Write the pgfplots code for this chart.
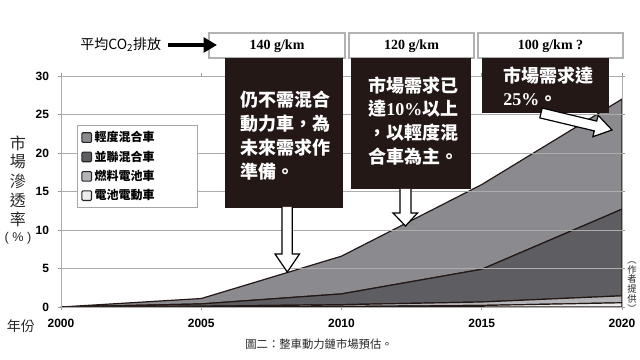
\documentclass[border=0pt]{standalone}
\usepackage{fontspec}
\usepackage{pgfplots}
\pgfplotsset{compat=1.18}
\usetikzlibrary{arrows.meta}
\setmainfont{Liberation Sans}
\newfontfamily\cjk{Noto Sans CJK TC}
\newfontfamily\serif{Liberation Serif}
\definecolor{mildgray}{HTML}{8B8A8F}
\definecolor{pargray}{HTML}{5E5D62}
\definecolor{fcgray}{HTML}{B4B3B8}
\definecolor{evwhite}{HTML}{EDEDED}
\definecolor{boxblack}{HTML}{231815}
\begin{document}
\begin{tikzpicture}
\path[use as bounding box] (0,0) rectangle (480pt,270pt);
\begin{axis}[
  at={(45.75pt,39.75pt)}, anchor=south west,
  scale only axis, width=420.75pt, height=173.25pt,
  xmin=2000, xmax=2020, ymin=0, ymax=30,
  xtick={2000,2005,...,2020}, ytick={0,5,...,30},
  xticklabel style={/pgf/number format/1000 sep={}, yshift=-3pt},
  yticklabel style={xshift=-3pt},
  /pgf/number format/assume math mode=true,
  ticklabel style={font=\bfseries\fontsize{9}{9}\selectfont},
  tick align=outside, major tick length=2.5pt, tick style={gray!80, line width=0.6pt},
  ymajorgrids, grid style={gray!65, line width=0.6pt},
  axis line style={gray!65, line width=0.6pt},
  stack plots=y, area style,
  every axis plot/.append style={draw={boxblack}, line width=0.9pt},
  legend image code/.code={\draw[#1,draw=black!85,line width=0.8pt,rounded corners=0.8pt] (0pt,-3.6pt) rectangle (7.2pt,3.6pt);},
  reverse legend,
  legend cell align=left,
  legend style={at={(0.0285,0.788)}, anchor=north west, draw=gray!70, line width=0.6pt, fill=white,
    font=\cjk\bfseries\fontsize{9}{10}\selectfont, row sep=1.3pt, inner xsep=3pt, inner ysep=2.5pt},
]
\addplot[fill=evwhite] coordinates {(2000,0) (2005,0.02) (2010,0.06) (2015,0.2) (2020,0.55)} \closedcycle;
\addlegendentry{\makebox[72pt][l]{電池電動車}}
\addplot[fill=fcgray] coordinates {(2000,0) (2005,0.08) (2010,0.24) (2015,0.45) (2020,0.9)} \closedcycle;
\addlegendentry{\makebox[72pt][l]{燃料電池車}}
\addplot[fill=pargray] coordinates {(2000,0) (2005,0.3) (2010,1.4) (2015,4.25) (2020,11.25)} \closedcycle;
\addlegendentry{\makebox[72pt][l]{並聯混合車}}
\addplot[fill=mildgray] coordinates {(2000,0) (2005,0.7) (2010,4.9) (2015,11.0) (2020,14.3)} \closedcycle;
\addlegendentry{\makebox[72pt][l]{輕度混合車}}
\end{axis}
\begin{scope}[yshift=270pt, x=0.75pt, y=-0.75pt]
  % CO2 header
  \node[anchor=west, inner sep=0pt, font=\cjk\fontsize{10.5}{12}\selectfont] at (80,45) {平均CO\textsubscript{2}排放};
  \draw[gray!60, fill=white, line width=0.8pt] (209,33) rectangle (345,58);
  \draw[gray!60, fill=white, line width=0.8pt] (349,33) rectangle (474,58);
  \draw[gray!60, fill=white, line width=0.8pt] (478,33) rectangle (623,58);
  \draw[line width=3pt, -{Triangle[length=10pt,width=11pt]}] (168,45) -- (217,45);
  \node[font=\serif\bfseries\fontsize{10.5}{12}\selectfont] at (277,46) {140 g/km};
  \node[font=\serif\bfseries\fontsize{10.5}{12}\selectfont] at (411.5,46) {120 g/km};
  \node[font=\serif\bfseries\fontsize{10.5}{12}\selectfont] at (550.5,46) {100 g/km ?};
  % black callouts
  \fill[boxblack] (225,58) rectangle (343,208);
  \fill[boxblack] (351,58) rectangle (471,189);
  \fill[boxblack] (482,58) rectangle (609,113);
  \begin{scope}[every node/.style={anchor=west, inner sep=0pt, text=white, font=\cjk\bfseries\fontsize{13.5}{16}\selectfont}]
    \node at (240,100) {仍不需混合};
    \node at (240,124) {動力車，為};
    \node at (240,148) {未來需求作};
    \node at (240,172) {準備。};
    \node at (368,86) {市場需求已};
    \node at (368,109) {達{\serif\bfseries 10\%}以上};
    \node at (368,133) {，以輕度混};
    \node at (368,157) {合車為主。};
    \node at (503,76) {市場需求達};
    \node at (503,100) {{\serif\bfseries 25\%}。};
  \end{scope}
  % hollow arrows
  \draw[fill=white, draw=black, line width=0.9pt, line join=miter]
    (282,207) -- (282,254) -- (275,254) -- (287.3,272) -- (299.5,254) -- (292.3,254) -- (292.3,207);
  \draw[fill=white, draw=black, line width=0.9pt, line join=miter]
    (400,189) -- (400,213) -- (393,213) -- (405.5,226) -- (417.5,213) -- (411,213) -- (411,189);
  \draw[fill=white, draw=black, line width=0.9pt, line join=miter]
    (539.8,117.9) -- (594.3,130.9) -- (592.9,136.7) -- (612,130) -- (598.1,115.3) -- (596.7,121.1) -- (542.2,108.1) -- cycle;
  % y label
  \begin{scope}[every node/.style={inner sep=0pt, font=\cjk\fontsize{12}{12}\selectfont, text=black!85}]
    \node at (18,143) {市};
    \node at (18,162) {場};
    \node at (18,181) {滲};
    \node at (18,200) {透};
    \node at (18,219) {率};
  \end{scope}
  \node[inner sep=0pt, font=\fontsize{9.5}{10}\selectfont, text=black!85] at (18,238) {( \% )};
  \node[inner sep=0pt, font=\cjk\fontsize{10.5}{12}\selectfont, text=black!85] at (21,326) {年份};
  \node[inner sep=0pt, font=\cjk\fontsize{8.5}{10}\selectfont, text=black!85] at (319,344) {圖二：整車動力鏈市場預估。};
  \node[inner sep=0pt, align=center, font=\cjk\fontsize{7}{7.4}\selectfont, text=black!85] at (632,287) {︵\\作\\者\\提\\供\\︶};
\end{scope}
\end{tikzpicture}
\end{document}
